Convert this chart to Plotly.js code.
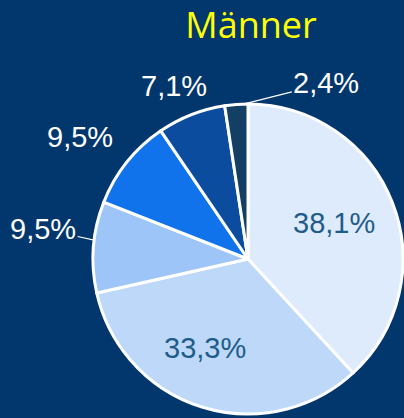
<!DOCTYPE html>
<html><head><meta charset="utf-8">
<script src="https://cdn.plot.ly/plotly-3.0.1.min.js"></script>
<style>html,body{margin:0;padding:0;background:#02376E;}#chart{width:404px;height:418px;}</style>
</head><body><div id="chart"></div>
<script>
var categories = ['A', 'B', 'C', 'D', 'E', 'F'];
var values = [38.1, 33.3, 9.5, 9.5, 7.1, 2.4];
var colors = ['#DDEBFC', '#BDD8F9', '#9EC5F7', '#1173EC', '#0B4C9F', '#123F63'];
var textColors = ['#1F5C89', '#1F5C89', '#FFFFFF', '#FFFFFF', '#FFFFFF', '#FFFFFF'];
// label placement style: angle tweak (deg), distance from centre (px), leader line
var labelStyle = [
  {dA: -1.6, dist: 93, arrow: false},
  {dA: 8.6, dist: 99, arrow: false},
  {dA: 2.6, dist: 0, arrow: true, ax: -51, ay: -11},
  {dA: -2.7, dist: 207, arrow: false},
  {dA: -1.6, dist: 188, arrow: false},
  {dA: 2.6, dist: 0, arrow: true, ax: 83, ay: -21}
];

var cx = 248, cy = 259, r = 155, W = 404, H = 418;
var total = values.reduce(function (a, b) { return a + b; }, 0);
var fmt = function (v) { return v.toFixed(1).replace('.', ',') + '%'; };

var annotations = [];
var cum = 0;
values.forEach(function (v, i) {
  var mid = (cum + v / 2) / total * 360;
  cum += v;
  var s = labelStyle[i];
  var a = (mid + s.dA) * Math.PI / 180;
  var d = s.arrow ? r : s.dist;
  var px = cx + d * Math.sin(a), py = cy - d * Math.cos(a);
  var ann = {
    xref: 'paper', yref: 'paper', x: px / W, y: 1 - py / H,
    text: fmt(v), xanchor: 'center', yanchor: 'middle',
    font: {family: 'Liberation Sans, Arial, sans-serif', size: 29, color: textColors[i]},
    showarrow: s.arrow
  };
  if (s.arrow) {
    ann.ax = s.ax; ann.ay = s.ay; ann.arrowhead = 0; ann.arrowwidth = 1.2;
    ann.arrowcolor = '#FFFFFF'; ann.standoff = 0;
  }
  annotations.push(ann);
});

var trace = {
  type: 'pie',
  labels: categories,
  values: values,
  sort: false,
  direction: 'clockwise',
  rotation: 0,
  marker: {colors: colors, line: {color: '#FFFFFF', width: 3}},
  textinfo: 'none',
  hoverinfo: 'none',
  showlegend: false,
  automargin: false,
  domain: {x: [(cx - r) / W, (cx + r) / W], y: [(H - cy - r) / H, (H - cy + r) / H]}
};
var layout = {
  width: W, height: H,
  margin: {l: 0, r: 0, t: 0, b: 0},
  paper_bgcolor: '#02376E',
  plot_bgcolor: '#02376E',
  title: {text: 'Männer', x: 251 / W, xanchor: 'center', y: 1 - 25 / H, yanchor: 'middle',
          font: {family: 'Open Sans, sans-serif', size: 36, color: '#FFFF00'}},
  annotations: annotations,
  showlegend: false
};
Plotly.newPlot('chart', [trace], layout, {displayModeBar: false, staticPlot: true});
</script></body></html>
